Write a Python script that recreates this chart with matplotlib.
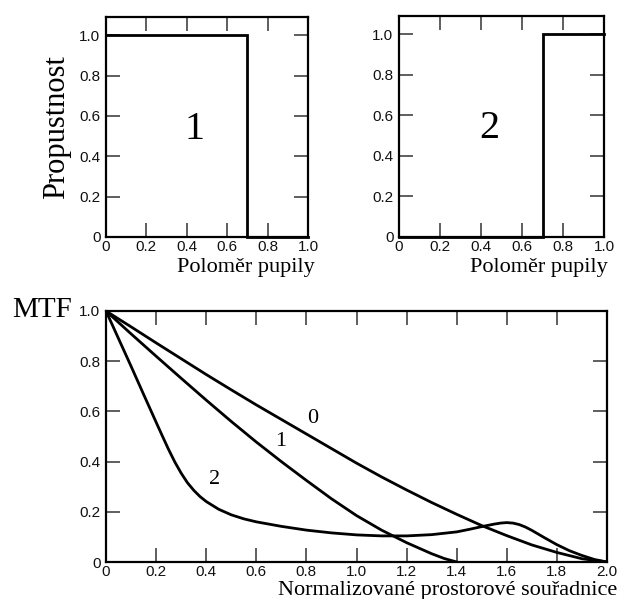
import matplotlib
matplotlib.use("Agg")
import matplotlib.pyplot as plt

# Pupil transmission profiles
pupil_r = [0.0, 0.7, 0.7, 1.0]
transmission_1 = [1.0, 1.0, 0.0, 0.0]
transmission_2 = [0.0, 0.0, 1.0, 1.0]

# MTF curves vs. normalized spatial frequency
freq_0 = [0.0, 0.1, 0.2, 0.3, 0.4, 0.5, 0.6, 0.7, 0.8, 0.9, 1.0,
          1.1, 1.2, 1.3, 1.4, 1.5, 1.6, 1.7, 1.8, 1.9, 2.0]
mtf_0 = [1.0, 0.937, 0.873, 0.81, 0.747, 0.686, 0.626, 0.568, 0.51, 0.452, 0.394,
         0.339, 0.287, 0.237, 0.19, 0.145, 0.105, 0.068, 0.038, 0.013, 0.0]

freq_1 = [0.0, 0.1, 0.2, 0.3, 0.4, 0.5, 0.6, 0.7, 0.8, 0.9, 1.0,
          1.1, 1.2, 1.3, 1.35, 1.4]
mtf_1 = [1.0, 0.909, 0.82, 0.732, 0.645, 0.56, 0.478, 0.4, 0.325, 0.252, 0.185,
         0.127, 0.077, 0.033, 0.014, 0.0]

freq_2 = [0.0, 0.05, 0.1, 0.15, 0.2, 0.225, 0.25, 0.275, 0.3, 0.325, 0.35, 0.375,
          0.4, 0.45, 0.5, 0.55, 0.6, 0.7, 0.8, 0.9, 1.0, 1.1, 1.2, 1.3, 1.4,
          1.45, 1.5, 1.55, 1.575, 1.6, 1.625, 1.65, 1.675, 1.7, 1.75, 1.8,
          1.85, 1.9, 1.95, 2.0]
mtf_2 = [1.0, 0.89, 0.78, 0.668, 0.557, 0.502, 0.448, 0.398, 0.354, 0.316, 0.286, 0.261,
         0.241, 0.21, 0.188, 0.172, 0.16, 0.142, 0.127, 0.116, 0.108, 0.104, 0.104, 0.109, 0.12,
         0.13, 0.141, 0.151, 0.155, 0.157, 0.155, 0.149, 0.139, 0.126, 0.097, 0.069,
         0.045, 0.026, 0.01, 0.0]

pupil_ticks = [0, 0.2, 0.4, 0.6, 0.8, 1.0]
pupil_ticklabels = ["0", "0.2", "0.4", "0.6", "0.8", "1.0"]
trans_ticks = [0, 0.2, 0.4, 0.6, 0.8, 1.0]
trans_ticklabels = ["0", "0.2", "0.4", "0.6", "0.8", "1.0"]
freq_ticks = [0, 0.2, 0.4, 0.6, 0.8, 1.0, 1.2, 1.4, 1.6, 1.8, 2.0]
freq_ticklabels = ["0", "0.2", "0.4", "0.6", "0.8", "1.0", "1.2", "1.4", "1.6", "1.8", "2.0"]
mtf_ticks = [0, 0.2, 0.4, 0.6, 0.8, 1.0]
mtf_ticklabels = ["0", "0.2", "0.4", "0.6", "0.8", "1.0"]

SERIF = "Liberation Serif"
SANS = "Liberation Sans"

fig = plt.figure(figsize=(6.18, 5.99), dpi=100)


def style_axes(ax):
    for s in ax.spines.values():
        s.set_linewidth(1.6)
        s.set_color("black")
    ax.tick_params(which="both", direction="in", top=True, right=True,
                   length=10, width=1.1, color="#333333",
                   labelsize=11, labelcolor="#111111")
    ax.tick_params(axis="x", pad=2)
    ax.tick_params(axis="y", pad=4)
    for lab in ax.get_xticklabels() + ax.get_yticklabels():
        lab.set_fontfamily(SANS)


W, H = 618.0, 599.0


def rect(l, t, r, b):
    return [l / W, 1 - b / H, (r - l) / W, (b - t) / H]


ax1 = fig.add_axes(rect(106, 17, 308, 237))
ax2 = fig.add_axes(rect(399, 16, 604, 237))
ax3 = fig.add_axes(rect(106, 311, 607, 562))

for ax, trans, tag in ((ax1, transmission_1, "1"), (ax2, transmission_2, "2")):
    ax.plot(pupil_r, trans, color="black", lw=2.0, clip_on=False,
            solid_joinstyle="miter", zorder=3)
    ax.set_xlim(0, 1.0)
    ax.set_ylim(0, 1.09)
    ax.set_xticks(pupil_ticks)
    ax.set_xticklabels(pupil_ticklabels)
    ax.set_yticks(trans_ticks)
    ax.set_yticklabels(trans_ticklabels)
    style_axes(ax)
    ax.text(0.44, 0.535, tag, fontsize=29, family=SERIF,
            ha="center", va="center", transform=ax.transData)

for fx, fy in ((freq_0, mtf_0), (freq_1, mtf_1), (freq_2, mtf_2)):
    ax3.plot(fx, fy, color="black", lw=2.0, solid_joinstyle="round")
ax3.set_xlim(0, 2.0)
ax3.set_ylim(0, 1.0)
ax3.set_xticks(freq_ticks)
ax3.set_xticklabels(freq_ticklabels)
ax3.set_yticks(mtf_ticks)
ax3.set_yticklabels(mtf_ticklabels)
style_axes(ax3)

ax3.text(0.826, 0.57, "0", fontsize=16, family=SERIF, ha="center", va="center")
ax3.text(0.699, 0.482, "1", fontsize=16, family=SERIF, ha="center", va="center")
ax3.text(0.435, 0.327, "2", fontsize=16, family=SERIF, ha="center", va="center")

# Axis titles
fig.text(57 / W, 1 - 127 / H, "Propustnost", rotation=90, fontsize=22,
         family=SERIF, ha="center", va="center")
fig.text(315 / W, 1 - 272 / H, "Poloměr pupily", fontsize=16,
         family=SERIF, ha="right", va="baseline")
fig.text(608 / W, 1 - 272 / H, "Poloměr pupily", fontsize=16,
         family=SERIF, ha="right", va="baseline")
fig.text(12 / W, 1 - 310 / H, "MTF", fontsize=21,
         family=SERIF, ha="left", va="center")
fig.text(617 / W, 1 - 595 / H, "Normalizované prostorové souřadnice", fontsize=16,
         family=SERIF, ha="right", va="baseline")

fig.savefig("out.png", dpi=100)
